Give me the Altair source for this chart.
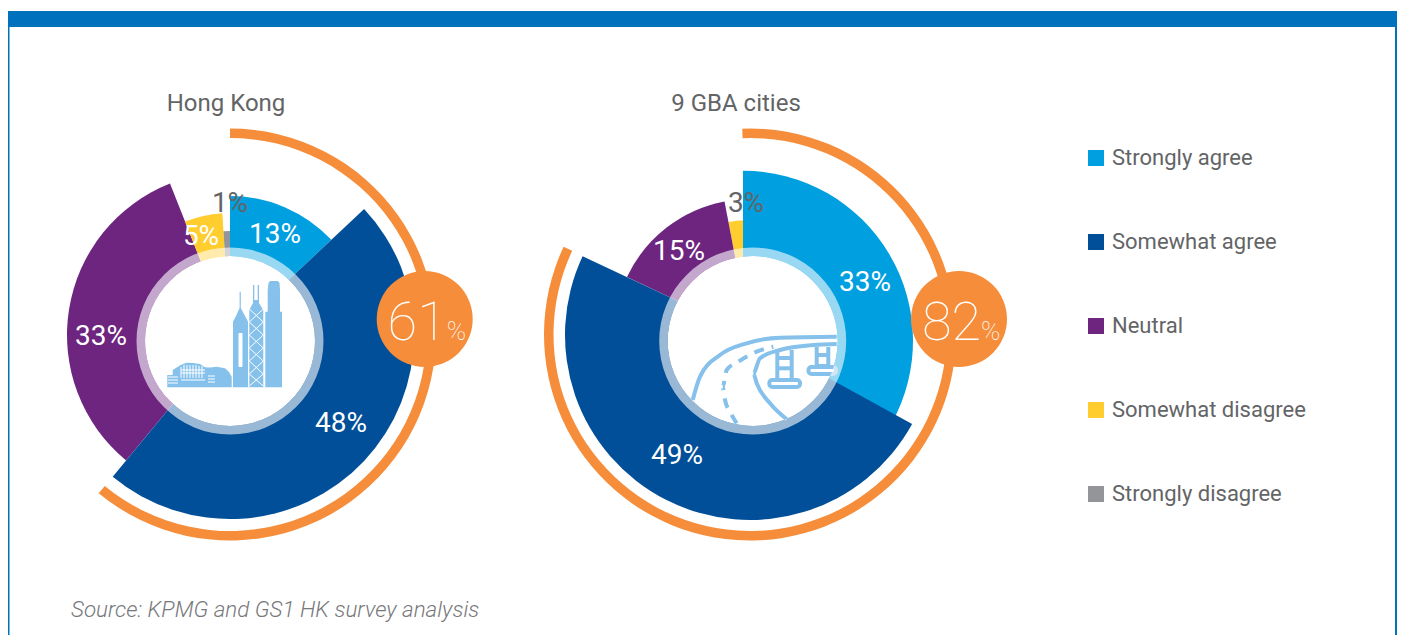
import math
import altair as alt
import pandas as pd

# ---------- survey values ----------
categories = ["Strongly agree", "Somewhat agree", "Neutral", "Somewhat disagree", "Strongly disagree"]
colors = ["#009FDF", "#004F98", "#6D2580", "#FFCD2E", "#939598"]
hk_values = [13, 48, 33, 5, 1]
gba_values = [33, 49, 15, 3, 0]
panel_titles = ["Hong Kong", "9 GBA cities"]
agree_totals = [61, 82]
arc_starts = [0, -0.6]

# ---------- layout (image pixels, read through the x/y scales) ----------
W, H = 1389, 627
centers = [(230, 335), (750, 335)]
ring_centers = [(230, 341), (752.7, 341)]
badge_centers = [(424.7, 319), (959, 319)]
hk_radii = [139, 184, 163, 122, 104]
gba_radii = [170, 185, 136, 115, 0]
gba_first_center = (743, 340.7)
hk_label_pos = [(275, 235), (341, 424), (101, 337), (201, 237), (230, 204)]
gba_label_pos = [(865, 283), (677, 456), (679, 252), (746, 204)]
title_pos = [(226, 104), (736, 104)]
GREY = "#636466"
ORANGE = "#F68D3A"
FRAME = "#0071BC"
ICON = "#85C1EB"
FONT = "Roboto"
LABEL_SIZE = 28

# skyline silhouette (x, top)
sky_x = [167.3, 167.3, 172.7, 172.7, 180.7, 186.7, 193, 200, 205, 210, 216.7, 225, 229, 231.7, 231.7,
         233, 233, 236, 239.6, 239.6, 240.8, 240.8, 245, 248, 248,
         249.3, 249.3, 253, 253, 254.3, 254.3, 257.7, 257.7, 259, 259, 263.3, 263.3,
         265.3, 265.3, 267.7, 267.7, 268.5, 270, 278, 279.5, 280, 280, 282, 282]
sky_top = [387, 375, 375, 370, 365, 362.7, 363, 364, 367.3, 367.5, 366.7, 368.3, 372, 376.7, 387,
           387, 321.7, 316, 308, 291.7, 291.7, 308, 316, 321.7, 387,
           387, 310, 303, 285, 285, 300, 300, 285, 285, 303, 310, 387,
           387, 311.7, 311.7, 290, 283, 281, 281, 283, 290, 311.7, 311.7, 387]

# white detail lines on the skyline: x, x2, y, y2
det_x = [249.3, 263.3, 249.3, 263.3, 249.3, 263.3, 249.3, 263.3, 249.3, 263.3, 249.3, 263.3,
         168, 168, 168, 181, 184, 187, 190, 193, 196, 199, 202, 181, 181, 181, 208, 208, 208]
det_x2 = [263.3, 249.3, 263.3, 249.3, 263.3, 249.3, 263.3, 249.3, 263.3, 249.3, 263.3, 249.3,
          178, 178, 178, 181, 184, 187, 190, 193, 196, 199, 202, 205, 205, 205, 215, 215, 215]
det_y = [309, 309, 322, 322, 335, 335, 348, 348, 361, 361, 374, 374,
         377, 380, 383, 367, 365, 365, 365, 365, 365, 366, 366, 370, 373, 380, 376, 379, 382]
det_y2 = [322, 322, 335, 335, 348, 348, 361, 361, 374, 374, 386, 386,
          377, 380, 383, 378, 378, 378, 378, 378, 378, 378, 378, 370, 373, 380, 376, 379, 382]

# bridge curves
bridge_outer_x = [692.7, 700, 720, 746.7, 780, 836.7]
bridge_outer_y = [400, 376.7, 355, 343.3, 337.7, 336.7]
bridge_inner_x = [786.7, 770, 756.7, 753.3, 760, 780, 813.3, 836.7]
bridge_inner_y = [419.3, 403.3, 383.3, 373.3, 358.3, 350, 345, 344]
bridge_dash_x = [736.7, 730, 725, 722.7, 726.7, 738.3, 756.7, 773.3]
bridge_dash_y = [423.3, 411.7, 400, 386.7, 370, 361.7, 351.7, 346.7]
pier_x = [777.3, 791.7, 777.3, 777.3, 816.7, 828.3, 816.7, 816.7]
pier_x2 = [777.3, 791.7, 791.7, 791.7, 816.7, 828.3, 828.3, 828.3]
pier_y = [351, 350, 368.3, 358, 347, 347, 366, 355]
pier_y2 = [380, 380, 368.3, 358, 367, 367, 366, 355]
foot_x = [769.3, 808.5]
foot_x2 = [800, 836]
foot_y = [380, 367]
foot_y2 = [387, 374]

xs = alt.Scale(type="linear", domain=[8, 8 + W], range=[0, W])
ys = alt.Scale(type="linear", domain=[8, 8 + H], range=[0, H])
ts = alt.Scale(type="linear", domain=[0, 100], range=[0, 2 * math.pi])
rs = alt.Scale(type="linear", domain=[0, 300], range=[0, 300])

X = alt.X("x:Q", scale=xs, axis=None)
Y = alt.Y("y:Q", scale=ys, axis=None)


def arcs(rows, **mark):
    return alt.Chart(pd.DataFrame(rows)).mark_arc(**mark).encode(
        x=X, y=Y,
        theta=alt.Theta("t0:Q", scale=ts, stack=None),
        theta2=alt.Theta2("t1:Q"),
        radius=alt.Radius("r:Q", scale=rs),
        radius2=alt.Radius2("r0:Q"),
    )


def texts(rows, **mark):
    return alt.Chart(pd.DataFrame(rows)).mark_text(**mark).encode(
        x=X, y=Y, text=alt.Text("label:N"))


def boxes(x, x2, y, y2, color, **mark):
    df = pd.DataFrame({"x": x, "x2": x2, "y": y, "y2": y2})
    return alt.Chart(df).mark_rect(color=color, **mark).encode(
        x=X, x2=alt.X2("x2:Q"), y=Y, y2=alt.Y2("y2:Q"))


def rules(x, x2, y, y2, color, width):
    df = pd.DataFrame({"x": x, "x2": x2, "y": y, "y2": y2})
    return alt.Chart(df).mark_rule(color=color, strokeWidth=width).encode(
        x=X, x2=alt.X2("x2:Q"), y=Y, y2=alt.Y2("y2:Q"))


def curve(x, y, color, width, **mark):
    df = pd.DataFrame({"x": x, "y": y, "i": range(len(x))})
    return alt.Chart(df).mark_line(color=color, strokeWidth=width, interpolate="monotone", **mark).encode(
        x=alt.X("x:Q", scale=xs, axis=None, sort=None), y=Y, order="i:Q")


# wedges, in the order they are stacked on the page
rows = []
for values, radii, c, first_c, seq in (
    (hk_values, hk_radii, centers[0], centers[0], [0, 2, 3, 4, 1]),
    (gba_values, gba_radii, centers[1], gba_first_center, [3, 2, 0, 1]),
):
    starts = [sum(values[:i]) for i in range(len(values))]
    for i in seq:
        cx, cy = first_c if i == 0 else c
        rows.append({"x": cx, "y": cy, "t0": starts[i], "t1": starts[i] + values[i],
                     "r": radii[i], "r0": 0, "cat": categories[i]})

wedges = alt.Chart(pd.DataFrame(rows)).mark_arc().encode(
    x=X, y=Y,
    theta=alt.Theta("t0:Q", scale=ts, stack=None),
    theta2=alt.Theta2("t1:Q"),
    radius=alt.Radius("r:Q", scale=rs),
    radius2=alt.Radius2("r0:Q"),
    color=alt.Color("cat:N", scale=alt.Scale(domain=categories, range=colors), legend=alt.Legend(
        orient="none", legendX=1077, legendY=139, title=None, padding=0,
        symbolType="square", symbolSize=256, symbolStrokeWidth=0, symbolOpacity=1,
        labelFont=FONT, labelFontSize=22, labelColor=GREY, labelOffset=5,
        rowPadding=62, labelLimit=300)),
)

discs = arcs([{"x": c[0], "y": c[1], "t0": 0, "t1": 100, "r": 85, "r0": 0} for c in ring_centers], color="#FFFFFF")
rings = arcs([{"x": c[0], "y": c[1], "t0": 0, "t1": 100, "r": 93.5, "r0": 85} for c in ring_centers],
             color="#FFFFFF", opacity=0.6)
orange_arcs = arcs([{"x": centers[i][0], "y": 334.5, "t0": arc_starts[i], "t1": agree_totals[i], "r": 206, "r0": 196.5}
                    for i in range(2)], color=ORANGE)
badges = arcs([{"x": c[0], "y": c[1], "t0": 0, "t1": 100, "r": 48, "r0": 0} for c in badge_centers], color=ORANGE)

# icons
sky = alt.Chart(pd.DataFrame({"x": sky_x, "y": sky_top, "y2": [387.3] * len(sky_x)})).mark_area(
    color=ICON, opacity=1, interpolate="linear").encode(
    x=alt.X("x:Q", scale=xs, axis=None), y=alt.Y("y:Q", scale=ys, axis=None, stack=None), y2=alt.Y2("y2:Q"))
window = boxes([238.5], [242.5], [333], [367], "#FFFFFF", cornerRadius=1)
details = rules(det_x, det_x2, det_y, det_y2, "#FFFFFF", 1)
b_outer = curve(bridge_outer_x, bridge_outer_y, ICON, 4)
b_inner = curve(bridge_inner_x, bridge_inner_y, ICON, 4)
b_dash = curve(bridge_dash_x, bridge_dash_y, ICON, 4, strokeDash=[10, 8])
piers = rules(pier_x, pier_x2, pier_y, pier_y2, ICON, 4)
feet = boxes(foot_x, foot_x2, foot_y, foot_y2, "#FFFFFF", stroke=ICON, strokeWidth=4, cornerRadius=3)

# texts
white_rows = []
for (v, p) in zip(hk_values[:4], hk_label_pos[:4]):
    white_rows.append({"x": p[0], "y": p[1], "label": f"{v}%"})
for (v, p) in zip(gba_values[:3], gba_label_pos[:3]):
    white_rows.append({"x": p[0], "y": p[1], "label": f"{v}%"})
grey_rows = [
    {"x": hk_label_pos[4][0], "y": hk_label_pos[4][1], "label": f"{hk_values[4]}%"},
    {"x": gba_label_pos[3][0], "y": gba_label_pos[3][1], "label": f"{gba_values[3]}%"},
]
white_labels = texts(white_rows, font=FONT, fontSize=LABEL_SIZE, color="#FFFFFF", align="center", baseline="middle")
grey_labels = texts(grey_rows, font=FONT, fontSize=LABEL_SIZE, color=GREY, align="center", baseline="middle")
titles = texts([{"x": p[0], "y": p[1], "label": t} for p, t in zip(title_pos, panel_titles)],
               font=FONT, fontSize=24, color=GREY, align="center", baseline="middle")
big_nums = texts([{"x": badge_centers[i][0] + 22, "y": 340, "label": str(agree_totals[i])} for i in range(2)],
                 font=FONT, fontSize=54, fontWeight=100, color="#FFFFFF", align="right", baseline="alphabetic")
big_pct = texts([{"x": badge_centers[i][0] + 22, "y": 340, "label": "%"} for i in range(2)],
                font=FONT, fontSize=26, fontWeight=100, color="#FFFFFF", align="left", baseline="alphabetic")
source = texts([{"x": 71, "y": 610, "label": "Source: KPMG and GS1 HK survey analysis"}],
               font="Roboto", fontSize=22.4, fontWeight=300, fontStyle="italic", color="#77787B",
               align="left", baseline="middle")

# frame (the svg stops at x = 1397)
frame = boxes([8, 8, 1395], [1397, 9.5, 1397], [11, 11, 11], [27, 635, 635], FRAME)

chart = alt.layer(
    frame, wedges, discs, sky, window, details, b_outer, b_dash, b_inner, piers, feet,
    rings, orange_arcs, badges,
    white_labels, grey_labels, titles, big_nums, big_pct, source,
).properties(
    width=W, height=H, padding=0, autosize=alt.AutoSizeParams(type="none"),
).configure_view(stroke=None)

chart.save("out.html", embed_options={"renderer": "svg", "actions": False})
